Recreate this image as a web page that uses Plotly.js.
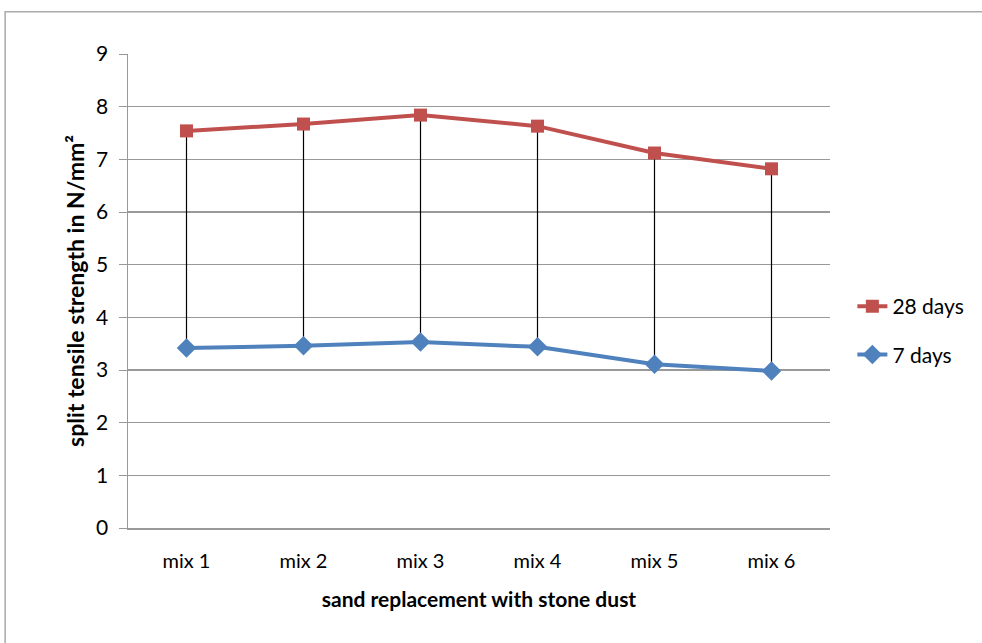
<!DOCTYPE html>
<html><head><meta charset="utf-8">
<script src="https://cdn.plot.ly/plotly-3.0.1.min.js"></script>
<style>html,body{margin:0;padding:0;background:#fff}#chart{width:982px;height:643px}</style>
</head><body><div id="chart"></div>
<script>
var categories = ["mix 1","mix 2","mix 3","mix 4","mix 5","mix 6"];
var days28 = [7.54, 7.67, 7.84, 7.63, 7.12, 6.82];
var days7 = [3.42, 3.46, 3.53, 3.44, 3.11, 2.98];
var yTicks = [0,1,2,3,4,5,6,7,8,9];

var hlX = [], hlY = [];
categories.forEach(function(c,i){ hlX.push(c,c,null); hlY.push(days7[i], days28[i], null); });

var traces = [
  {x: hlX, y: hlY, mode: 'lines', line: {color: '#000', width: 1.2}, showlegend: false, hoverinfo: 'skip'},
  {x: categories, y: days28, name: '28 days', legendgroup: 'a', mode: 'lines+markers',
   line: {color: '#C0504D', width: 4}, marker: {symbol: 'square', size: 13, color: '#C0504D'}},
  {x: categories, y: days7, name: '7 days', legendgroup: 'b', mode: 'lines+markers',
   line: {color: '#4F81BD', width: 4}, marker: {symbol: 'diamond', size: 15, color: '#4F81BD'}}
];

var font = "Lato, 'Open Sans', sans-serif";
var layout = {
  width: 982, height: 643,
  margin: {l: 128, r: 152, t: 54, b: 115},
  paper_bgcolor: '#fff', plot_bgcolor: '#fff',
  font: {family: font, size: 20, color: '#000'},
  showlegend: true,
  legend: {xref: 'container', yref: 'container', x: 0.868, y: 0.486, xanchor: 'left', yanchor: 'middle',
           font: {size: 21, family: font}, tracegroupgap: 18, traceorder: 'grouped', bgcolor: 'rgba(0,0,0,0)'},
  xaxis: {type: 'category', range: [-0.5, 5.5], showgrid: false, showline: true, linecolor: '#999', linewidth: 1.5,
          ticks: '', tickfont: {size: 20}, ticklabelstandoff: 14,
          title: {text: '<b>sand replacement with stone dust</b>', font: {size: 21}, standoff: 22}},
  yaxis: {range: [0, 9], tickvals: yTicks, showgrid: true, gridcolor: '#999', gridwidth: 1.2,
          showline: true, linecolor: '#999', linewidth: 1.5, ticks: 'outside', ticklen: 8, tickcolor: '#999',
          tickfont: {size: 21}, zeroline: false, ticklabelstandoff: 6,
          title: {text: '<b>split tensile strength in N/mm²</b>', font: {size: 23}, standoff: 5}},
  shapes: [{type: 'rect', xref: 'paper', yref: 'paper', x0: -0.175, x1: 1.26, y0: -0.26, y1: 1.089,
            line: {color: '#aaa', width: 1.5}, fillcolor: 'rgba(0,0,0,0)', layer: 'below'}]
};
Plotly.newPlot('chart', traces, layout, {displayModeBar: false, staticPlot: true});
</script></body></html>
